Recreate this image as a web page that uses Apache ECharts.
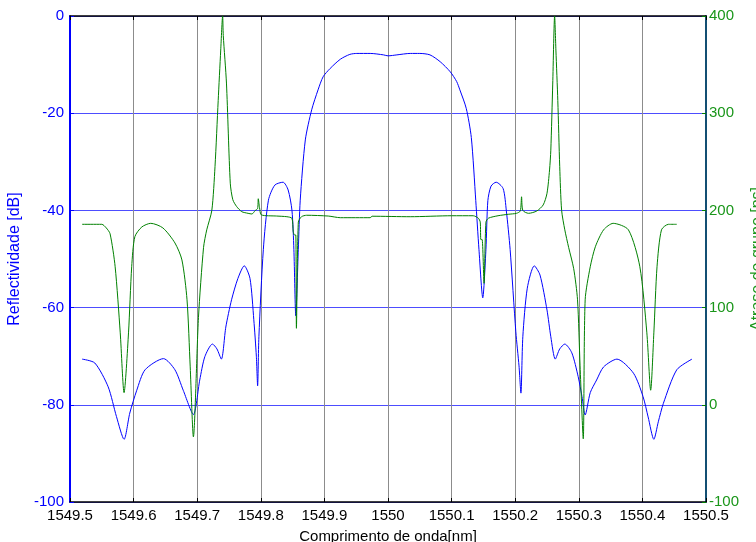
<!DOCTYPE html>
<html>
<head>
<meta charset="utf-8">
<title>Reflectividade e atraso de grupo</title>
<script src="https://cdn.jsdelivr.net/npm/echarts@6/dist/echarts.min.js"></script>
<style>
  html, body { margin: 0; padding: 0; background: #fff; }
  #chart { width: 756px; height: 542px; }
</style>
</head>
<body>
<div id="chart"></div>
<script>
// comprimento de onda [nm] e reflectividade [dB] (curva azul)
const reflWl = [
  1549.519, 1549.539, 1549.560, 1549.573, 1549.585, 1549.594, 1549.605, 1549.618,
  1549.647, 1549.665, 1549.678, 1549.694, 1549.704, 1549.712, 1549.724, 1549.731,
  1549.738, 1549.745, 1549.754, 1549.764, 1549.774, 1549.783, 1549.789, 1549.793,
  1549.795, 1549.797, 1549.804, 1549.812, 1549.822, 1549.835, 1549.843, 1549.849,
  1549.852, 1549.855, 1549.859, 1549.862, 1549.870, 1549.880, 1549.890, 1549.898,
  1549.909, 1549.925, 1549.940, 1549.951, 1549.972, 1549.993, 1550.000, 1550.014,
  1550.035, 1550.050, 1550.066, 1550.082, 1550.098, 1550.108, 1550.113, 1550.123,
  1550.131, 1550.138, 1550.143, 1550.149, 1550.154, 1550.157, 1550.162, 1550.170,
  1550.181, 1550.186, 1550.192, 1550.201, 1550.206, 1550.209, 1550.212, 1550.219,
  1550.230, 1550.239, 1550.250, 1550.256, 1550.263, 1550.270, 1550.278, 1550.289,
  1550.299, 1550.305, 1550.310, 1550.318, 1550.328, 1550.339, 1550.360, 1550.386,
  1550.401, 1550.409, 1550.418, 1550.425, 1550.433, 1550.454, 1550.478
];
const reflDb = [
  -70.6, -71.4, -76.3, -82.4, -87.1, -81.7, -77.0, -72.8,
  -70.5, -72.8, -77.0, -82.0, -74.9, -70.1, -67.5, -68.5,
  -70.6, -64.0, -58.4, -54.0, -51.4, -54.0, -62.5, -70.0,
  -76.1, -66.0, -48.0, -37.9, -34.8, -34.2, -35.8, -40.0,
  -48.0, -61.7, -48.0, -37.9, -25.5, -19.3, -15.2, -12.5,
  -10.8, -8.9, -7.9, -7.7, -7.7, -8.0, -8.2, -8.0,
  -7.7, -7.7, -8.0, -9.4, -11.5, -13.5, -15.2, -19.0,
  -25.0, -38.0, -48.0, -58.0, -48.0, -38.0, -35.0, -34.2,
  -35.5, -40.0, -48.0, -65.0, -72.0, -77.6, -66.0, -56.0,
  -51.4, -53.3, -60.5, -66.0, -70.6, -68.5, -67.5, -69.3,
  -74.2, -78.3, -82.1, -77.5, -74.9, -72.2, -70.6, -73.5,
  -78.3, -82.5, -87.1, -83.5, -79.7, -72.8, -70.6
];

// comprimento de onda [nm] e atraso de grupo [ps] (curva verde)
const delayWl = [
  1549.519, 1549.550, 1549.557, 1549.563, 1549.571, 1549.579, 1549.585, 1549.592,
  1549.597, 1549.602, 1549.613, 1549.627, 1549.646, 1549.665, 1549.676, 1549.684,
  1549.689, 1549.694, 1549.702, 1549.710, 1549.715, 1549.723, 1549.728, 1549.733,
  1549.737, 1549.740, 1549.741, 1549.746, 1549.752, 1549.756, 1549.762, 1549.770,
  1549.780, 1549.786, 1549.791, 1549.795, 1549.796, 1549.798, 1549.801, 1549.825,
  1549.841, 1549.849, 1549.851, 1549.853, 1549.855, 1549.856, 1549.859, 1549.864,
  1549.872, 1549.906, 1549.925, 1549.972, 1549.975, 1550.035, 1550.100, 1550.134,
  1550.142, 1550.145, 1550.146, 1550.148, 1550.151, 1550.154, 1550.158, 1550.173,
  1550.189, 1550.202, 1550.208, 1550.210, 1550.212, 1550.221, 1550.234, 1550.244,
  1550.250, 1550.254, 1550.256, 1550.259, 1550.262, 1550.264, 1550.267, 1550.270,
  1550.273, 1550.278, 1550.284, 1550.292, 1550.298, 1550.302, 1550.307, 1550.310,
  1550.318, 1550.326, 1550.339, 1550.354, 1550.378, 1550.396, 1550.407, 1550.413,
  1550.418, 1550.423, 1550.430, 1550.441, 1550.454, 1550.479
];
const delayPs = [
  185.7, 185.7, 182, 176, 142, 74, 12.5, 74,
  142, 173, 183, 186.7, 182, 166.5, 149, 108,
  39, -33, 90, 162, 180, 200, 245, 313,
  365, 400, 380, 331, 228, 211, 204, 198.7,
  197, 196.3, 199.7, 202, 212, 203, 195.3, 194.2,
  193.5, 191.8, 178, 174.7, 174.7, 78.7, 188, 193.5,
  195, 194.2, 192.5, 192.5, 194, 193.5, 194.5, 194.5,
  192, 188, 170, 170, 125, 188, 192, 194.5,
  196, 197, 199.4, 214, 200, 197, 199.4, 205.6,
  217.6, 241.6, 262, 330, 400, 365, 313, 245,
  200, 180, 162, 140, 108, 40, -35, 108,
  142, 162.6, 180, 186.7, 180, 142, 74, 15,
  74, 142, 180, 185.7, 185.7
];

const pair = (xs, ys) => xs.map((x, i) => [x, ys[i]]);
const fmtWl = v => String(+v.toFixed(1));

const chart = echarts.init(document.getElementById('chart'));
chart.setOption({
  animation: false,
  textStyle: { fontFamily: 'Liberation Sans, Arial, sans-serif' },
  grid: { left: 70, right: 50, top: 16, bottom: 40, containLabel: false, outerBoundsMode: 'none' },
  xAxis: [
    {
      type: 'value', min: 1549.5, max: 1550.5, interval: 0.1,
      name: 'Comprimento de onda[nm]', nameLocation: 'middle', nameGap: 27,
      nameTextStyle: { color: '#000', fontSize: 15 },
      axisLine: { onZero: false, lineStyle: { color: '#000', width: 1.5 } },
      axisTick: { inside: true, length: 4, lineStyle: { color: '#000' } },
      axisLabel: { color: '#000', fontSize: 15, margin: 6, formatter: fmtWl },
      splitLine: { show: true, lineStyle: { color: '#8c8c8c', width: 1 } }
    },
    {
      // borda superior
      type: 'value', position: 'top', min: 1549.5, max: 1550.5, interval: 0.1,
      axisLine: { onZero: false, lineStyle: { color: '#000', width: 1.5 } },
      axisTick: { inside: true, length: 4, lineStyle: { color: '#000' } },
      axisLabel: { show: false },
      splitLine: { show: false }
    }
  ],
  yAxis: [
    {
      type: 'value', min: -100, max: 0, interval: 20,
      name: 'Reflectividade [dB]', nameLocation: 'middle', nameGap: 43,
      nameTextStyle: { color: '#0000ff', fontSize: 16 },
      axisLine: { show: true, onZero: false, lineStyle: { color: '#0000ff', width: 2 } },
      axisTick: { inside: true, length: 4, lineStyle: { color: '#0000ff' } },
      axisLabel: { color: '#0000ff', fontSize: 15, margin: 6 },
      splitLine: { show: true, lineStyle: { color: '#4d4dff', width: 1 } }
    },
    {
      type: 'value', position: 'right', min: -100, max: 400, interval: 100,
      name: 'Atraso de grupo [ps]', nameLocation: 'middle', nameGap: 34, nameRotate: 90,
      nameTextStyle: { color: '#1a961a', fontSize: 16 },
      axisLine: { show: true, onZero: false, lineStyle: { color: '#134f73', width: 2 } },
      axisTick: { inside: true, length: 4, lineStyle: { color: '#008000' } },
      axisLabel: { color: '#1a961a', fontSize: 15, margin: 3 },
      splitLine: { show: false }
    }
  ],
  series: [
    {
      type: 'line', name: 'Reflectividade', yAxisIndex: 0,
      data: pair(reflWl, reflDb), symbol: 'none', smooth: 0.25,
      lineStyle: { color: '#0000ff', width: 1 }, z: 3
    },
    {
      type: 'line', name: 'Atraso de grupo', yAxisIndex: 1,
      data: pair(delayWl, delayPs), symbol: 'none', smooth: 0.25,
      lineStyle: { color: '#008000', width: 1 }, z: 4
    }
  ]
});
</script>
</body>
</html>
